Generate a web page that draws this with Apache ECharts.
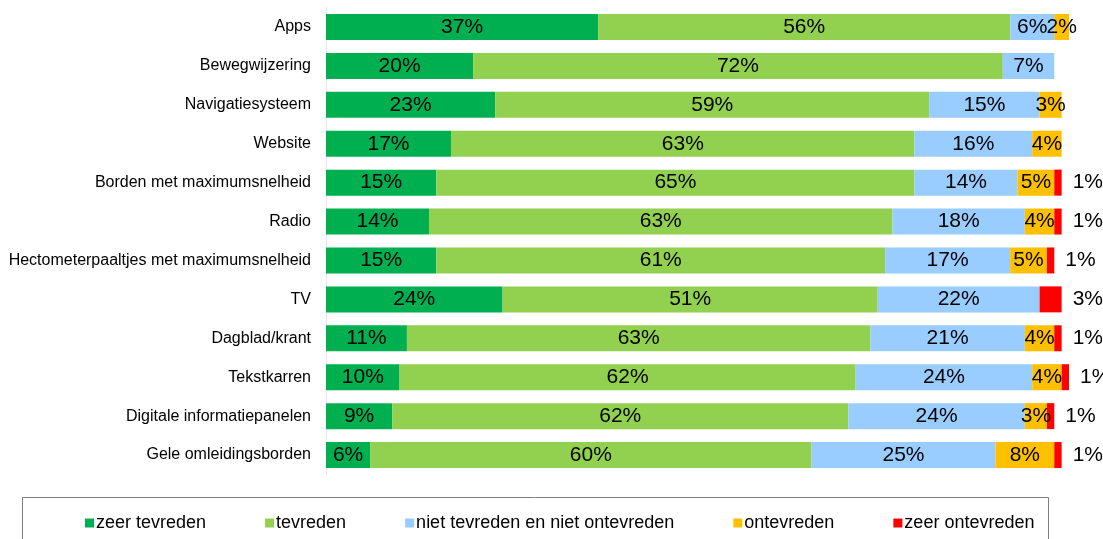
<!DOCTYPE html>
<html>
<head>
<meta charset="utf-8">
<script src="https://cdn.jsdelivr.net/npm/echarts@6/dist/echarts.min.js"></script>
<style>
  html, body { margin: 0; padding: 0; background: #fff; }
  #chart { width: 1103px; height: 539px; }
</style>
</head>
<body>
<div id="chart"></div>
<script>
// Tevredenheid over informatiebronnen (percentages per categorie)
const categories = [
  'Apps', 'Bewegwijzering', 'Navigatiesysteem', 'Website',
  'Borden met maximumsnelheid', 'Radio',
  'Hectometerpaaltjes met maximumsnelheid', 'TV', 'Dagblad/krant',
  'Tekstkarren', 'Digitale informatiepanelen', 'Gele omleidingsborden'
];
const seriesNames = ['zeer tevreden', 'tevreden', 'niet tevreden en niet ontevreden', 'ontevreden', 'zeer ontevreden'];
const zeerTevreden   = [37, 20, 23, 17, 15, 14, 15, 24, 11, 10, 9, 6];
const tevreden       = [56, 72, 59, 63, 65, 63, 61, 51, 63, 62, 62, 60];
const neutraal       = [6, 7, 15, 16, 14, 18, 17, 22, 21, 24, 24, 25];
const ontevreden     = [2, null, 3, 4, 5, 4, 5, null, 4, 4, 3, 8];
const zeerOntevreden = [null, null, null, null, 1, 1, 1, 3, 1, 1, 1, 1];

const colors = ['#00B050', '#92D050', '#99CCFF', '#FFC000', '#FF0000'];
const font = '"Liberation Sans", Arial, sans-serif';

const chart = echarts.init(document.getElementById('chart'), null, { renderer: 'canvas' });

function barSeries(name, data, color, labelPos) {
  return {
    name: name,
    type: 'bar',
    stack: 'totaal',
    data: data,
    barWidth: 26,
    itemStyle: { color: color },
    label: {
      show: true,
      position: labelPos || 'inside',
      distance: 11,
      formatter: p => (p.value == null ? '' : p.value + '%'),
      color: '#000',
      fontFamily: font,
      fontSize: 21
    },
    emphasis: { disabled: true },
    animation: false
  };
}

chart.setOption({
  animation: false,
  color: colors,
  grid: { left: 326, right: 34, top: 7.5, bottom: 64.5, containLabel: false },
  xAxis: {
    type: 'value', min: 0, max: 101,
    show: false
  },
  yAxis: {
    type: 'category',
    data: categories,
    inverse: true,
    axisLine: { show: true, lineStyle: { color: '#e6e6e6', width: 1 } },
    axisTick: { show: false },
    axisLabel: { margin: 15, color: '#000', fontFamily: font, fontSize: 16 }
  },
  legend: {
    data: seriesNames,
    left: 80, top: 509,
    icon: 'rect', itemWidth: 9, itemHeight: 9, itemGap: 59,
    textStyle: { color: '#000', fontFamily: font, fontSize: 18, padding: [0, 0, 0, -3] },
    selectedMode: false
  },
  graphic: [{
    type: 'rect',
    shape: { x: 22.5, y: 497.5, width: 1026, height: 60 },
    style: { fill: 'none', stroke: '#7f7f7f', lineWidth: 1 },
    silent: true
  }],
  series: [
    barSeries(seriesNames[0], zeerTevreden, colors[0]),
    barSeries(seriesNames[1], tevreden, colors[1]),
    barSeries(seriesNames[2], neutraal, colors[2]),
    barSeries(seriesNames[3], ontevreden, colors[3]),
    barSeries(seriesNames[4], zeerOntevreden, colors[4], 'right')
  ]
});
</script>
</body>
</html>
